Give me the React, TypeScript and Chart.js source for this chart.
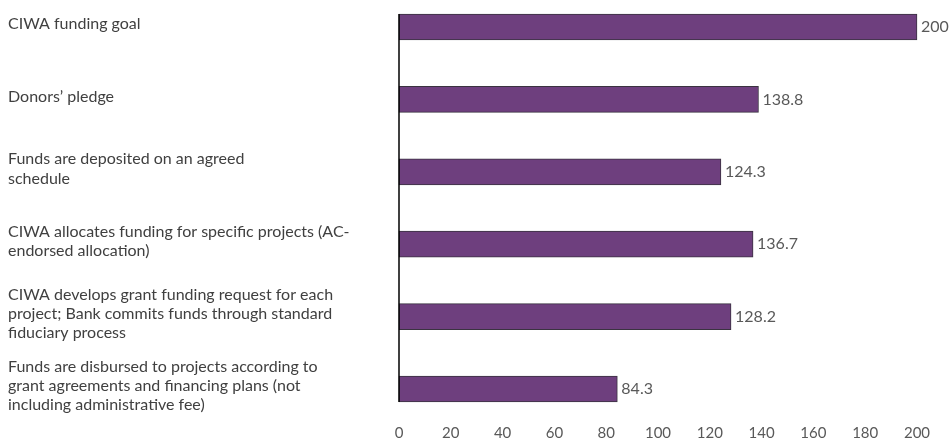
import React, { useEffect, useRef } from "react";
import { Chart, registerables } from "chart.js";

Chart.register(...registerables);

const categories: string[][] = [
  ["CIWA funding goal"],
  ["Donors’ pledge"],
  ["Funds are deposited on an agreed", "schedule"],
  ["CIWA allocates funding for specific projects (AC-", "endorsed allocation)"],
  ["CIWA develops grant funding request for each", "project; Bank commits funds through standard", "fiduciary process"],
  ["Funds are disbursed to projects according to", "grant agreements and financing plans (not", "including administrative fee)"],
];

const values: number[] = [200, 138.8, 124.3, 136.7, 128.2, 84.3];

const xTicks: number[] = [0, 20, 40, 60, 80, 100, 120, 140, 160, 180, 200];

const valueLabelPlugin = {
  id: "valueLabels",
  afterDatasetsDraw(chart: any) {
    const { ctx } = chart;
    const meta = chart.getDatasetMeta(0);
    ctx.save();
    ctx.font = "16px Lato";
    ctx.fillStyle = "#595959";
    ctx.textAlign = "left";
    ctx.textBaseline = "middle";
    meta.data.forEach((el: any, i: number) => {
      ctx.fillText(String(values[i]), el.x + 4, el.y);
    });
    ctx.restore();
  },
};

const axisLinePlugin = {
  id: "axisLine",
  afterDatasetsDraw(chart: any) {
    const { ctx } = chart;
    const meta = chart.getDatasetMeta(0);
    const els = meta.data;
    if (!els.length) return;
    const x = chart.scales.x.getPixelForValue(0);
    const first = els[0];
    const last = els[els.length - 1];
    ctx.save();
    ctx.strokeStyle = "#000000";
    ctx.lineWidth = 1.5;
    ctx.beginPath();
    ctx.moveTo(x, first.y - first.height / 2);
    ctx.lineTo(x, last.y + last.height / 2);
    ctx.stroke();
    ctx.restore();
  },
};

export default function App() {
  const ref = useRef<HTMLCanvasElement | null>(null);

  useEffect(() => {
    document.body.style.margin = "0";
    if (!ref.current) return;
    Chart.defaults.font.family = "Lato";
    const chart = new Chart(ref.current, {
      type: "bar",
      data: {
        labels: categories as any,
        datasets: [
          {
            data: values,
            backgroundColor: "#6E3F7E",
            borderColor: "#3a3340",
            borderWidth: 1,
            borderSkipped: false,
            barThickness: 26,
            clip: false as any,
          },
        ],
      },
      options: {
        animation: false,
        responsive: false,
        indexAxis: "y",
        layout: { padding: { left: 8, right: 33, top: 27, bottom: 0 } },
        plugins: {
          legend: { display: false },
          tooltip: { enabled: false },
        },
        scales: {
          x: {
            min: 0,
            max: 200,
            afterBuildTicks(scale: any) {
              scale.ticks = xTicks.map((v) => ({ value: v }));
            },
            afterFit(scale: any) {
              scale.height = 51;
              scale.paddingLeft = 0;
              scale.paddingRight = 0;
            },
            grid: { display: false, drawTicks: false },
            border: { display: false },
            ticks: {
              padding: 35,
              color: "#595959",
              font: { size: 15, family: "Lato" },
              maxRotation: 0,
              autoSkip: false,
            },
          },
          y: {
            offset: false,
            afterFit(scale: any) {
              scale.width = 391;
              scale.paddingTop = 0;
              scale.paddingBottom = 0;
            },
            grid: { display: false, drawTicks: false },
            border: { display: false },
            ticks: {
              crossAlign: "far",
              padding: 0,
              labelOffset: -3,
              color: "#404040",
              font: { size: 16, family: "Lato", lineHeight: 1.2 },
              autoSkip: false,
            },
          },
        },
      },
      plugins: [valueLabelPlugin, axisLinePlugin],
    });
    return () => chart.destroy();
  }, []);

  return (
    <div style={{ width: 950, height: 440 }}>
      <canvas ref={ref} width={950} height={440} style={{ display: "block" }} />
    </div>
  );
}
